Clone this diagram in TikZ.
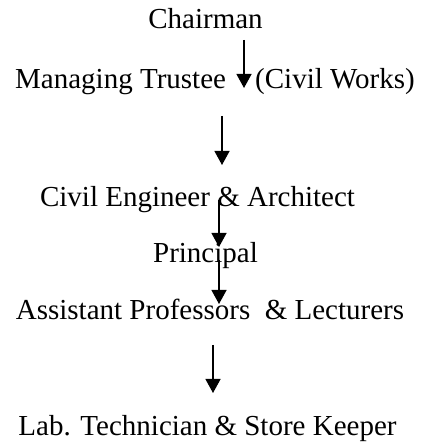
\documentclass[tikz,border=0pt]{standalone}
\usepackage{fontspec}
\setmainfont{Liberation Serif}
\usetikzlibrary{arrows.meta}
\begin{document}
\begin{tikzpicture}[x=1pt,y=1pt,
  lbl/.style={inner sep=0pt,anchor=base,font=\fontsize{29}{34}\selectfont},
  lblw/.style={lbl,anchor=base west},
  arr/.style={line width=1.3pt,-{Triangle[length=14pt 0,width=15pt 0]}}]
\useasboundingbox (0,0) rectangle (422,443);
\node[lbl] (chair) at (205.5,414) {Chairman};
\node[lblw] (mt) at (15,354) {Managing Trustee};
\node[lblw] (cw) at (255,354) {(Civil Works)};
\node[lbl] (ce) at (197.5,236) {Civil Engineer \& Architect};
\node[lbl] (pr) at (205.5,180) {Principal};
\node[lbl] (ap) at (210,123) {Assistant Professors\ \ \& Lecturers};
\node[lbl] (lt) at (207.5,8) {Lab. Technician \& Store Keeper};
\coordinate (a1s) at (244,403); \coordinate (a1e) at (244,355);
\coordinate (a2s) at (222,327); \coordinate (a2e) at (222,278);
\coordinate (a3s) at (219,243); \coordinate (a3e) at (219,196);
\coordinate (a4s) at (219,183); \coordinate (a4e) at (219,139);
\coordinate (a5s) at (213,98);  \coordinate (a5e) at (213,50);
\draw[arr] (a1s) -- (a1e);
\draw[arr] (a2s) -- (a2e);
\draw[arr] (a3s) -- (a3e);
\draw[arr] (a4s) -- (a4e);
\draw[arr] (a5s) -- (a5e);
\end{tikzpicture}
\end{document}
